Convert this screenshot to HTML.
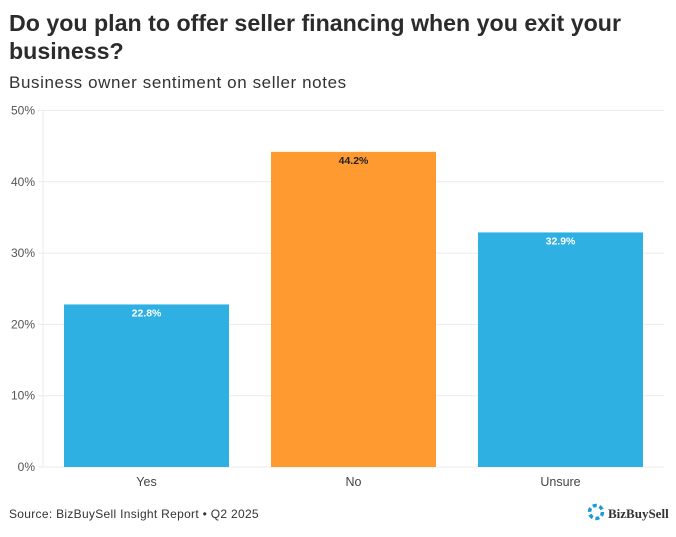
<!DOCTYPE html>
<html><head><meta charset="utf-8"><style>
body{margin:0;background:#fff;width:676px;height:532px;overflow:hidden;font-family:"Liberation Sans",sans-serif}
</style></head><body>
<svg width="676" height="532" xmlns="http://www.w3.org/2000/svg">
<text x="9" y="31" font-size="23.2" font-weight="bold" fill="#2b2b2b">Do you plan to offer seller financing when you exit your</text>
<text x="9" y="59" font-size="23.2" font-weight="bold" fill="#2b2b2b">business?</text>
<text x="9" y="88" font-size="17" letter-spacing="0.6" fill="#333">Business owner sentiment on seller notes</text>
<g id="grid"></g><g id="bars"></g>
<text x="9" y="518" font-size="12" letter-spacing="0.3" fill="#333">Source: BizBuySell Insight Report • Q2 2025</text>
<g>
<circle cx="596" cy="512" r="6.5" fill="none" stroke="#1a9ad6" stroke-width="3.5" stroke-dasharray="4 2.8"/>
<text x="608" y="518" font-family="Liberation Serif,serif" font-size="13" font-weight="bold" fill="#333">BizBuySell</text>
</g>
</svg>
<script>
const categories=["Yes","No","Unsure"];
const values=[22.8,44.2,32.9];
const colors=["#2fb0e2","#ff9a30","#2fb0e2"];
const ticks=[0,10,20,30,40,50];
const NS="http://www.w3.org/2000/svg";
const x0=43,x1=664,y0=467,y1=110.5,max=50;
const y=v=>y0-(v/max)*(y0-y1);
const band=(x1-x0)/categories.length,pad=21;
const g=document.getElementById('grid'),b=document.getElementById('bars');
function mk(t,a,p){const e=document.createElementNS(NS,t);for(const k in a)e.setAttribute(k,a[k]);p.appendChild(e);return e;}
ticks.forEach(t=>{
 const l=mk('line',{x1:38,x2:x1,y1:y(t),y2:y(t),stroke:'#ebebeb','stroke-width':1},g);
 
 
 const tx=mk('text',{x:35,y:y(t)+4,'text-anchor':'end','font-size':12,fill:'#555'},g);
 tx.textContent=t+'%';
 
 
});
mk('line',{x1:x0,x2:x0,y1:y1,y2:y0,stroke:'#ebebeb'},g);
categories.forEach((c,i)=>{
 const bx=x0+i*band+pad,bw=band-2*pad;
 const r=mk('rect',{x:bx,y:y(values[i]),width:bw,height:y0-y(values[i]),fill:colors[i]},b);
 
 
 const lb=mk('text',{x:bx+bw/2,y:y(values[i])+12,'text-anchor':'middle','font-size':10.5,'font-weight':'bold',fill:i==1?'#222':'#fff'},b);
 lb.textContent=values[i].toFixed(1)+'%';
 
 
 const cl=mk('text',{x:bx+bw/2,y:486,'text-anchor':'middle','font-size':12.5,fill:'#444'},b);
 cl.textContent=c;
 
 
});
</script>
</body></html>
